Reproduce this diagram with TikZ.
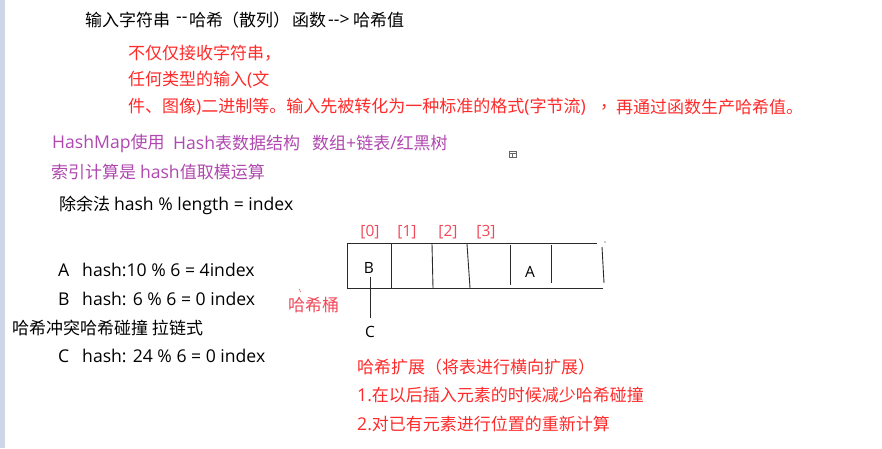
\documentclass[tikz,border=0pt]{standalone}
\usepackage{fontspec}
\setmainfont[Ligatures=TeXOff]{Noto Sans CJK SC}
\newfontfamily\lt[Ligatures=TeXOff]{Open Sans}
\definecolor{tred}{HTML}{FF2A2A}
\definecolor{ired}{HTML}{F04A5A}
\definecolor{tpurple}{HTML}{B048B0}
\definecolor{tbar}{HTML}{CDD6E6}
\definecolor{tline}{HTML}{2A2A2A}
\newcommand{\la}[1]{{\lt\fontsize{17.6pt}{18pt}\selectfont #1}}
\begin{document}
\begin{tikzpicture}[x=1pt,y=-1pt,
  txt/.style={anchor=west,inner sep=0pt,font=\fontsize{17pt}{20pt}\selectfont},
  ctxt/.style={inner sep=0pt,font=\fontsize{15.5pt}{18pt}\selectfont\lt},
  tbl/.style={draw=tline,line width=0.9pt}]
\useasboundingbox (0,0) rectangle (882,448);
\fill[white] (0,0) rectangle (882,448);
\fill[tbar] (0,0) rectangle (5,448);
% title line
\node[txt] (t1) at (85,20) {输入字符串};
\node[txt] (t2) at (176,20) {\la{-{}-}};
\node[txt] (t3) at (189,20) {哈希};
\node[txt] (t4) at (222,20) {（散列）};
\node[txt] (t5) at (292,20) {函数};
\node[txt] (t6) at (328,20) {\la{-{}->}};
\node[txt] (t7) at (353,20) {哈希值};
% red notes
\node[txt,text=tred] (r1) at (128,53) {不仅仅接收字符串，};
\node[txt,text=tred] (r2) at (128,80) {任何类型的输入\la{(}文};
\node[txt,text=tred] (r3) at (128,107) {件、图像\la{)}二进制等。输入先被转化为一种标准的格式\la{(}字节流\la{)}};
\node[txt,text=tred] (r3b) at (600,107) {，};
\node[txt,text=tred] (r3c) at (616,107) {再通过函数生产哈希值。};
% purple
\node[txt,text=tpurple] (p1) at (52,143) {\la{HashMap}使用};
\node[txt,text=tpurple] (p1b) at (173,143) {\la{Hash}表数据结构};
\node[txt,text=tpurple] (p1c) at (312,143) {数组\la{+}链表\la{/}红黑树};
\node[txt,text=tpurple] (p2) at (51,172) {索引计算是 \la{hash}值取模运算};
% black
\node[txt] (m1) at (59,205) {除余法 \la{hash \% length = index}};
\node[txt] (ha0) at (58,270) {\la{A}};
\node[txt] (ha) at (82,270) {\la{hash:10 \% 6 = 4index}};
\node[txt] (hb0) at (58,299) {\la{B}};
\node[txt] (hb) at (82,299) {\la{hash: 6 \% 6 = 0 index}};
\node[txt] (hc) at (12,328) {哈希冲突哈希碰撞 拉链式};
\node[txt] (hc0) at (58,356) {\la{C}};
\node[txt] (hcc) at (82,356) {\la{hash: 24 \% 6 = 0 index}};
\node[txt,text=ired] (tong) at (288,305) {哈希桶};
\draw[ired,line width=0.6pt] (299.5,289) -- (300.5,292);
% expansion
\node[txt,text=tred] (e1) at (357,367) {哈希扩展（将表进行横向扩展）};
\node[txt,text=tred] (e2) at (357,395) {\la{1.}在以后插入元素的时候减少哈希碰撞};
\node[txt,text=tred] (e3) at (357,424) {\la{2.}对已有元素进行位置的重新计算};
% icon
\draw[gray!80!black,line width=0.6pt] (509,151) rectangle (516,157);
\draw[gray!80!black,line width=0.6pt] (509,153) -- (516,153) (512.5,153) -- (512.5,157);
% table
\draw[tbl] (597,243) -- (347,243) -- (347,288) -- (603,288);
\draw[tbl] (391,243) -- (391,288);
\draw[tbl] (432,244) -- (433,288);
\draw[tbl] (467,244) -- (470,288);
\draw[tbl] (510,245) -- (510,285);
\draw[tbl] (551,245) -- (551,283);
\draw[tbl] (602,247) -- (604,283);
\fill[tline] (605,242) circle (0.6);
\node[ctxt,text=ired] (i0) at (370,232) {[0]};
\node[ctxt,text=ired] (i1) at (407,232) {[1]};
\node[ctxt,text=ired] (i2) at (448,232) {[2]};
\node[ctxt,text=ired] (i3) at (486,232) {[3]};
\node[ctxt] (B) at (369,268) {B};
\node[ctxt] (A) at (530,272) {A};
\node[ctxt] (C) at (370,332) {C};
\draw[tbl] (B.south) ++(1,3) coordinate (bs) -- (bs |- 0,318) coordinate (ce);
\end{tikzpicture}
\end{document}
